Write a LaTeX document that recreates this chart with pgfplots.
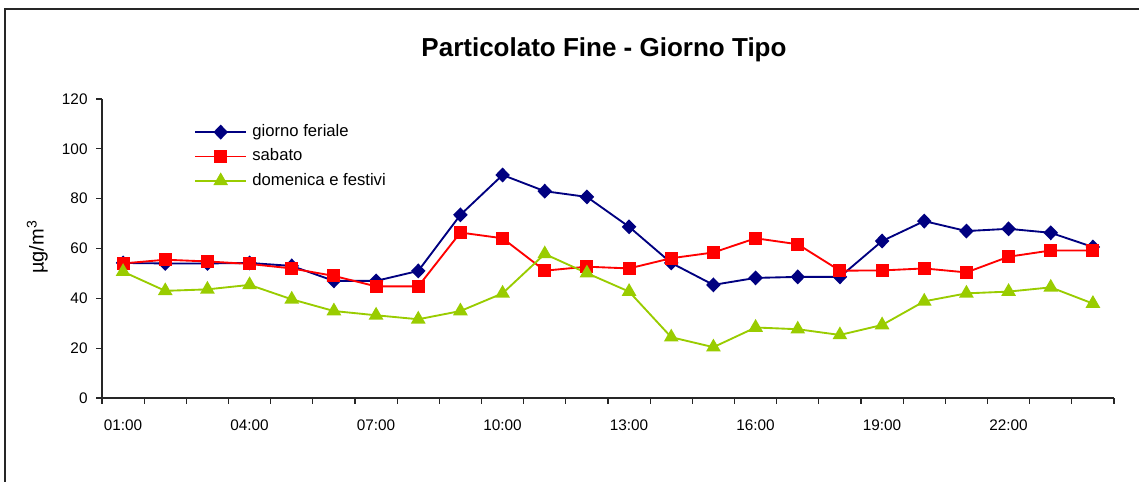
\documentclass[border=0pt]{standalone}
\usepackage{fontspec}
\setmainfont{Liberation Sans}
\usepackage{pgfplots}
\pgfplotsset{compat=1.18}

\definecolor{feriale}{RGB}{0,0,128}
\definecolor{sabato}{RGB}{255,0,0}
\definecolor{festivi}{RGB}{153,204,0}

% one pixel of the reference = 0.75pt
\begin{document}
\begin{tikzpicture}
\useasboundingbox (0pt,0pt) rectangle (854.25pt,361.5pt);
\draw[line width=0.8pt, black!85] (3.75pt,-20pt) rectangle (880pt,354.75pt);
\begin{axis}[
    at={(76.5pt,63pt)}, anchor=south west,
    scale only axis,
    width=759pt, height=224.25pt,
    axis x line=bottom, axis y line=left,
    axis line style={-, black!85, line width=0.8pt},
    xmin=0.5, xmax=24.5,
    ymin=0, ymax=120,
    ytick={0,20,...,120},
    xtick={1,4,7,10,13,16,19,22},
    xticklabels={01:00,04:00,07:00,10:00,13:00,16:00,19:00,22:00},
    minor xtick={0.5,1.5,...,24.5},
    major x tick style={draw=none},
    minor x tick style={black!85, line width=0.8pt},
    y tick style={black!85, line width=0.8pt},
    tick align=outside,
    major tick length=4.3pt, minor tick length=4.3pt,
    ticklabel style={font=\fontsize{11.5}{13}\selectfont},
    /pgf/number format/assume math mode=true,
    xticklabel style={yshift=-8.5pt},
    yticklabel style={xshift=-3pt},
    title={Particolato Fine - Giorno Tipo},
    title style={at={(axis description cs:0.496,1.137)}, anchor=center,
        font=\bfseries\fontsize{19.5}{22}\selectfont},
    ylabel={µg/m\textsuperscript{3}},
    ylabel style={at={(axis description cs:-0.064,0.505)}, anchor=center,
        font=\fontsize{15}{17}\selectfont},
    legend cell align=left,
    legend style={at={(axis description cs:0.091,0.92)}, anchor=north west,
        draw=none, fill=none, inner sep=0pt, row sep=4.9pt,
        font=\fontsize{12.5}{14}\selectfont,
        nodes={text height=8.8pt, text depth=2.6pt, inner sep=1pt},
        /tikz/every odd column/.append style={column sep=3pt}},
    legend image code/.code={%
        \draw[mark repeat=2,mark phase=2] plot coordinates {(0cm,0cm) (0.67cm,0cm) (1.34cm,0cm)};},
    every axis plot/.append style={line width=1.4pt},
]
\addplot[color=feriale, mark=diamond*, mark size=4.6pt, mark options={xscale=1.3, solid}] coordinates {
    (1,54.2) (2,54.0) (3,54.0) (4,54.2) (5,53.0) (6,47.0) (7,47.0) (8,51.0)
    (9,73.5) (10,89.5) (11,83.0) (12,80.7) (13,68.7) (14,54.2) (15,45.4) (16,48.2)
    (17,48.6) (18,48.6) (19,63.0) (20,71.0) (21,67.0) (22,67.9) (23,66.3) (24,60.6)
};
\addplot[color=sabato, mark=square*, mark size=4.2pt, mark options={solid}] coordinates {
    (1,54.0) (2,55.5) (3,54.8) (4,53.8) (5,52.0) (6,49.0) (7,44.8) (8,44.8)
    (9,66.4) (10,64.1) (11,51.1) (12,52.7) (13,52.0) (14,56.1) (15,58.4) (16,64.1)
    (17,61.7) (18,51.1) (19,51.2) (20,52.0) (21,50.4) (22,56.7) (23,59.2) (24,59.2)
};
\addplot[color=festivi, mark=triangle*, mark size=5pt, mark options={solid}] coordinates {
    (1,50.7) (2,43.0) (3,43.6) (4,45.4) (5,39.6) (6,34.9) (7,33.2) (8,31.6)
    (9,34.9) (10,42.0) (11,57.8) (12,50.1) (13,42.7) (14,24.4) (15,20.4) (16,28.3)
    (17,27.6) (18,25.3) (19,29.3) (20,38.8) (21,42.0) (22,42.7) (23,44.4) (24,37.9)
};
\legend{giorno feriale, sabato, domenica e festivi}
\end{axis}
\end{tikzpicture}
\end{document}
